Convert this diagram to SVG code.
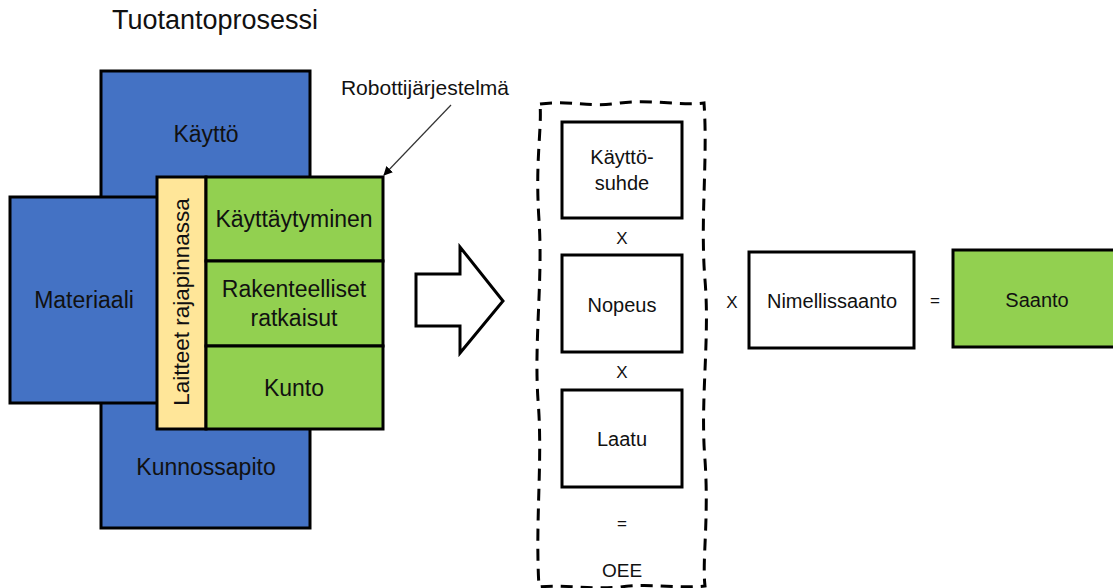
<svg xmlns="http://www.w3.org/2000/svg" width="1113" height="588" viewBox="0 0 1113 588">
  <defs>
    <style>
      text { font-family: "Liberation Sans", Arial, sans-serif; fill: #111; text-anchor: middle; }
      .blue { fill: #4472C4; stroke: #000; stroke-width: 3; }
      .green { fill: #92D050; stroke: #000; stroke-width: 3; }
      .yellow { fill: #FFE699; stroke: #000; stroke-width: 3; }
      .plain { fill: #fff; stroke: #000; stroke-width: 3; }
      .big { font-size: 23px; }
      .mid { font-size: 20px; }
      .op { font-size: 17px; }
      .frame { fill: none; stroke: #000; stroke-width: 3; stroke-dasharray: 12 8; }
    </style>
    <marker id="head" viewBox="0 0 10 10" refX="9" refY="5" markerWidth="9" markerHeight="9" orient="auto" markerUnits="userSpaceOnUse">
      <path d="M0,0 L10,5 L0,10 Z" fill="#000"/>
    </marker>
  </defs>
  <rect width="1113" height="588" fill="#fff"/>

  <text x="215" y="29" style="font-size:27px">Tuotantoprosessi</text>

  <!-- production process blocks -->
  <g id="kaytto-kunnossapito">
    <rect class="blue" x="101" y="71" width="209" height="457"/>
    <text class="big" x="206" y="142">Käyttö</text>
    <text class="big" x="206" y="475">Kunnossapito</text>
  </g>
  <g id="materiaali">
    <rect class="blue" x="10" y="197" width="160" height="206"/>
    <text class="big" x="84" y="308">Materiaali</text>
  </g>
  <g id="laitteet">
    <rect class="yellow" x="157" y="177" width="49" height="252"/>
    <text transform="translate(189,302) rotate(-90)" style="font-size:22.5px">Laitteet rajapinnassa</text>
  </g>
  <g id="kayttaytyminen">
    <rect class="green" x="206" y="177" width="177" height="84"/>
    <text class="big" x="294" y="227">Käyttäytyminen</text>
  </g>
  <g id="rakenteelliset">
    <rect class="green" x="206" y="261" width="177" height="85"/>
    <text class="big" x="294" y="297">Rakenteelliset</text>
    <text class="big" x="294" y="326">ratkaisut</text>
  </g>
  <g id="kunto">
    <rect class="green" x="206" y="346" width="177" height="83"/>
    <text class="big" x="294" y="396">Kunto</text>
  </g>
  <g id="robottijarjestelma">
    <text x="425" y="95" style="font-size:21px">Robottijärjestelmä</text>
  </g>

  <!-- block arrow -->
  <g id="nuoli">
    <path d="M416,274 L460,274 L460,247 L503,301 L460,353 L460,326 L416,326 Z" fill="#fff" stroke="#000" stroke-width="3" stroke-linejoin="miter"/>
  </g>

  <!-- OEE frame -->
  <g id="oee">
    <path class="frame" d="M540,104 C570,100 590,108 620,103 C650,99 680,106 704,103 C708,160 700,220 705,280 C710,340 700,400 705,460 C709,520 702,560 705,586 C680,589 650,583 620,587 C590,590 565,584 539,587 C535,520 543,460 538,400 C534,340 543,280 539,220 C535,160 542,130 540,104 Z"/>
    <text x="622" y="577" style="font-size:19px">OEE</text>
    <text class="op" x="622" y="529">=</text>
    <text class="op" x="622" y="244">X</text>
    <text class="op" x="622" y="378">X</text>
  </g>
  <g id="kayttosuhde">
    <rect class="plain" x="562" y="122" width="120" height="96"/>
    <text class="mid" x="622" y="164">Käyttö-</text>
    <text class="mid" x="622" y="190">suhde</text>
  </g>
  <g id="nopeus">
    <rect class="plain" x="562" y="255" width="120" height="97"/>
    <text class="mid" x="622" y="312">Nopeus</text>
  </g>
  <g id="laatu">
    <rect class="plain" x="562" y="390" width="120" height="97"/>
    <text class="mid" x="622" y="446">Laatu</text>
  </g>

  <text class="op" x="732" y="308">X</text>
  <g id="nimellissaanto">
    <rect class="plain" x="749" y="252" width="165" height="96"/>
    <text class="mid" x="832" y="308">Nimellissaanto</text>
  </g>
  <text class="op" x="935" y="306">=</text>
  <g id="saanto">
    <rect class="green" x="953" y="250" width="170" height="97"/>
    <text class="mid" x="1037" y="307">Saanto</text>
  </g>

  <g id="connectors">
    <line x1="451" y1="105" x2="384" y2="175" stroke="#333" stroke-width="1.2" marker-end="url(#head)"/>
  </g>
</svg>
